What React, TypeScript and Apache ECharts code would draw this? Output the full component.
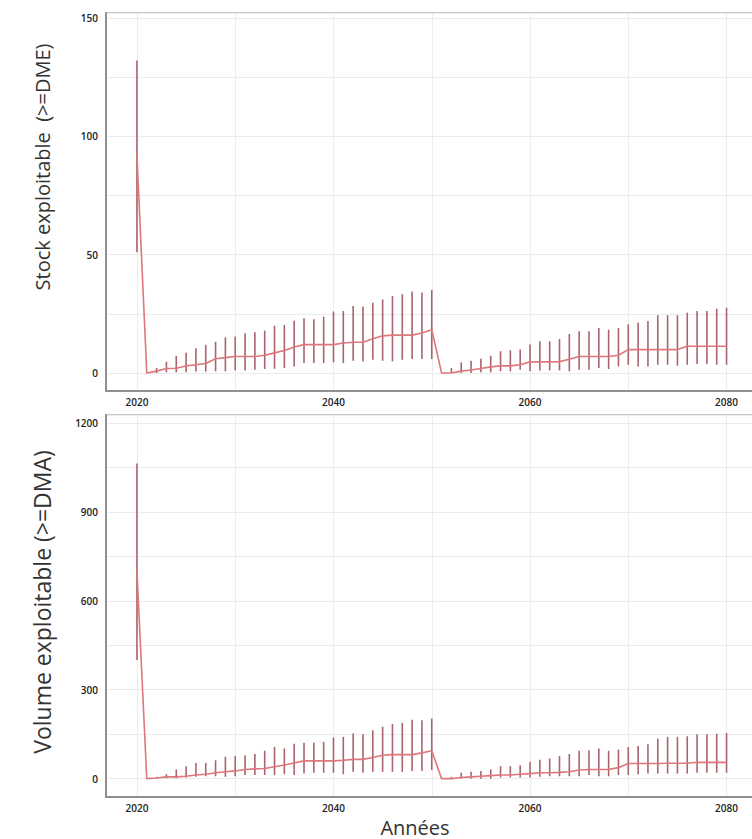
import React, { useEffect, useRef } from "react";
import * as echarts from "echarts";

const years = [
  2020, 2021, 2022, 2023, 2024, 2025, 2026, 2027, 2028, 2029, 2030,
  2031, 2032, 2033, 2034, 2035, 2036, 2037, 2038, 2039, 2040,
  2041, 2042, 2043, 2044, 2045, 2046, 2047, 2048, 2049, 2050,
  2051, 2052, 2053, 2054, 2055, 2056, 2057, 2058, 2059, 2060,
  2061, 2062, 2063, 2064, 2065, 2066, 2067, 2068, 2069, 2070,
  2071, 2072, 2073, 2074, 2075, 2076, 2077, 2078, 2079, 2080,
];

const stockMean = [
  92, 0, 0.8, 1.9, 2.0, 3, 3.5, 4, 6, 6.5, 7,
  7, 7, 7.5, 8.5, 9.5, 11, 12, 12, 12, 12,
  12.7, 13, 13, 14.5, 15.7, 16, 16, 16, 16.9, 18.3,
  0, 0, 0.8, 1.3, 1.9, 2.6, 3, 3, 3.5, 4.7,
  4.7, 4.7, 4.8, 5.8, 7, 7, 7, 7, 7.5, 9.9,
  9.9, 9.9, 9.9, 9.9, 9.9, 11.3, 11.3, 11.3, 11.3, 11.3,
];
const stockHigh = [
  132, 0, 2.1, 4.8, 7.2, 8.6, 10.5, 11.9, 13.2, 15.1, 15.4,
  16.8, 17.2, 17.9, 20.0, 20.3, 22.1, 23.1, 22.7, 23.8, 26.0,
  26.2, 28.3, 28.1, 29.7, 31.1, 32.5, 33.3, 34.4, 34.0, 35.1,
  0, 2.1, 4.5, 5.2, 6, 7.3, 9.2, 9.6, 9.9, 12,
  13.4, 13.4, 14.4, 16.5, 17.6, 17.6, 19, 18.3, 19, 20.6,
  21.3, 22, 24.4, 24.4, 24.4, 25.5, 26.2, 26.2, 27.2, 27.6,
];
const stockLow = [
  51, 0, 0, 0.3, 0.3, 0.3, 0.6, 0.6, 0.7, 0.7, 1.1,
  1.1, 1.4, 1.7, 1.8, 2.1, 2.7, 4.2, 4.2, 4.2, 4.5,
  4.2, 5.2, 4.9, 5.6, 5.2, 4.9, 5.6, 5.9, 5.9, 5.9,
  0, 0, 0, 0, 0.3, 0.3, 0.7, 0.7, 1.4, 0.7,
  1.1, 1.1, 1.1, 0.7, 1.4, 1.4, 2.1, 1.7, 2.8, 3.5,
  2.8, 2.8, 3.5, 3.5, 3.1, 3.5, 3.8, 3.8, 3.5, 3.5,
];

const volMean = [
  700, 0, 2, 6, 6, 8, 12, 15, 20, 23, 26,
  31, 33, 34, 40, 46, 53, 60, 60, 60, 60,
  62, 65, 65, 71, 79, 81, 81, 81, 87, 94,
  0, 0, 4, 6, 8, 10, 12, 12, 15, 17,
  20, 20, 21, 23, 29, 31, 31, 31, 37, 51,
  51, 51, 51, 52, 52, 52, 55, 55, 55, 55,
];
const volHigh = [
  1063, 0, 6, 15, 31, 42, 53, 53, 62, 74, 76,
  79, 83, 94, 107, 102, 118, 121, 121, 124, 139,
  141, 152, 150, 163, 175, 184, 188, 199, 197, 203,
  0, 6, 20, 23, 26, 31, 42, 42, 45, 57,
  64, 68, 76, 83, 94, 96, 102, 94, 98, 107,
  110, 116, 135, 141, 141, 143, 150, 150, 152, 154,
];
const volLow = [
  400, 0, 0, 1, 1, 4, 6, 8, 8, 6, 8,
  12, 12, 12, 12, 15, 12, 17, 20, 20, 20,
  15, 23, 20, 23, 23, 23, 23, 26, 26, 29,
  0, 0, 0, 0, 0, 0, 4, 4, 4, 4,
  6, 8, 8, 8, 8, 12, 8, 8, 12, 12,
  15, 17, 17, 17, 17, 17, 20, 20, 20, 20,
];

const stockTitle = "Stock exploitable  (>=DME)";
const volTitle = "Volume exploitable (>=DMA)";
const xTitle = "Années";

const LINE_COLOR = "#de767c";
const BAR_COLOR = "#a9646b";
const GRID_COLOR = "#ececec";
const TICK_FONT = "'Open Sans', 'Noto Sans', sans-serif";

export default function App() {
  const ref = useRef<HTMLDivElement>(null);

  useEffect(() => {
    if (!ref.current) return;
    const chart = echarts.init(ref.current, undefined, { renderer: "svg" });

    const errData = (lo: number[], hi: number[]) => years.map((y, i) => [y, lo[i], hi[i]]);
    const meanData = (m: number[]) => years.map((y, i) => [y, m[i]]);

    const renderErr = (params: any, api: any) => {
      const x = api.value(0);
      const p1 = api.coord([x, api.value(1)]);
      const p2 = api.coord([x, api.value(2)]);
      return {
        type: "line",
        shape: { x1: p1[0], y1: p1[1], x2: p2[0], y2: p2[1] },
        style: { stroke: BAR_COLOR, lineWidth: 1.6 },
      };
    };

    const xAxisBase = (gridIndex: number) => ({
      type: "value",
      gridIndex,
      min: 2016.85,
      max: 2083.2,
      minInterval: 10,
      maxInterval: 10,
      axisLine: { show: true, onZero: false, lineStyle: { color: "#8f8f8f", width: 2 } },
      axisTick: { show: false },
      splitLine: { show: true, lineStyle: { color: GRID_COLOR, width: 1 } },
      axisLabel: {
        margin: 6,
        color: "#222",
        fontSize: 10,
        fontWeight: 600,
        fontFamily: TICK_FONT,
        showMinLabel: false,
        showMaxLabel: false,
        formatter: (v: number) => (Math.abs(v % 20) < 1e-6 ? String(v) : ""),
      },
    });

    const yAxisBase = (gridIndex: number, min: number, max: number, step: number, labelStep: number) => ({
      type: "value",
      gridIndex,
      min,
      max,
      minInterval: step,
      maxInterval: step,
      axisLine: { show: true, onZero: false, lineStyle: { color: "#8f8f8f", width: 2 } },
      axisTick: { show: false },
      splitLine: { show: true, lineStyle: { color: GRID_COLOR, width: 1 } },
      axisLabel: {
        margin: 8,
        color: "#222",
        fontSize: 10,
        fontWeight: 600,
        fontFamily: TICK_FONT,
        showMinLabel: false,
        showMaxLabel: false,
        formatter: (v: number) => (Math.abs(v % labelStep) < 1e-6 ? String(v) : ""),
      },
    });

    chart.setOption({
      animation: false,
      backgroundColor: "#ffffff",
      grid: [
        { left: 106, top: 13, width: 652, height: 378, show: true, borderColor: "#b8b8b8", borderWidth: 1.5, backgroundColor: "transparent", containLabel: false, outerBoundsMode: "none" },
        { left: 106, top: 415, width: 652, height: 382, show: true, borderColor: "#b8b8b8", borderWidth: 1.5, backgroundColor: "transparent", containLabel: false, outerBoundsMode: "none" },
      ],
      xAxis: [xAxisBase(0), xAxisBase(1)],
      yAxis: [yAxisBase(0, -7.6, 152.1, 25, 50), yAxisBase(1, -62, 1227, 150, 300)],
      series: [
        {
          type: "custom",
          xAxisIndex: 0,
          yAxisIndex: 0,
          renderItem: renderErr,
          data: errData(stockLow, stockHigh),
          encode: { x: 0, y: [1, 2] },
          clip: true,
          z: 2,
        },
        {
          type: "line",
          xAxisIndex: 0,
          yAxisIndex: 0,
          data: meanData(stockMean),
          symbol: "none",
          lineStyle: { color: LINE_COLOR, width: 1.6 },
          z: 3,
        },
        {
          type: "custom",
          xAxisIndex: 1,
          yAxisIndex: 1,
          renderItem: renderErr,
          data: errData(volLow, volHigh),
          encode: { x: 0, y: [1, 2] },
          clip: true,
          z: 2,
        },
        {
          type: "line",
          xAxisIndex: 1,
          yAxisIndex: 1,
          data: meanData(volMean),
          symbol: "none",
          lineStyle: { color: LINE_COLOR, width: 1.6 },
          z: 3,
        },
      ],
      graphic: [
        {
          type: "text",
          x: 42,
          y: 167,
          rotation: Math.PI / 2,
          style: {
            text: stockTitle,
            fill: "#333",
            font: "20px 'Open Sans', sans-serif",
            textAlign: "center",
            textVerticalAlign: "middle",
          },
        },
        {
          type: "text",
          x: 42,
          y: 602,
          rotation: Math.PI / 2,
          style: {
            text: volTitle,
            fill: "#333",
            font: "23px 'Open Sans', sans-serif",
            textAlign: "center",
            textVerticalAlign: "middle",
          },
        },
        {
          type: "text",
          x: 415,
          y: 827,
          style: {
            text: xTitle,
            fill: "#333",
            font: "20px 'Open Sans', sans-serif",
            textAlign: "center",
            textVerticalAlign: "middle",
          },
        },
      ],
    });

    return () => chart.dispose();
  }, []);

  return (
    <div
      ref={ref}
      style={{ position: "fixed", left: 0, top: 0, width: 752, height: 839 }}
    />
  );
}
